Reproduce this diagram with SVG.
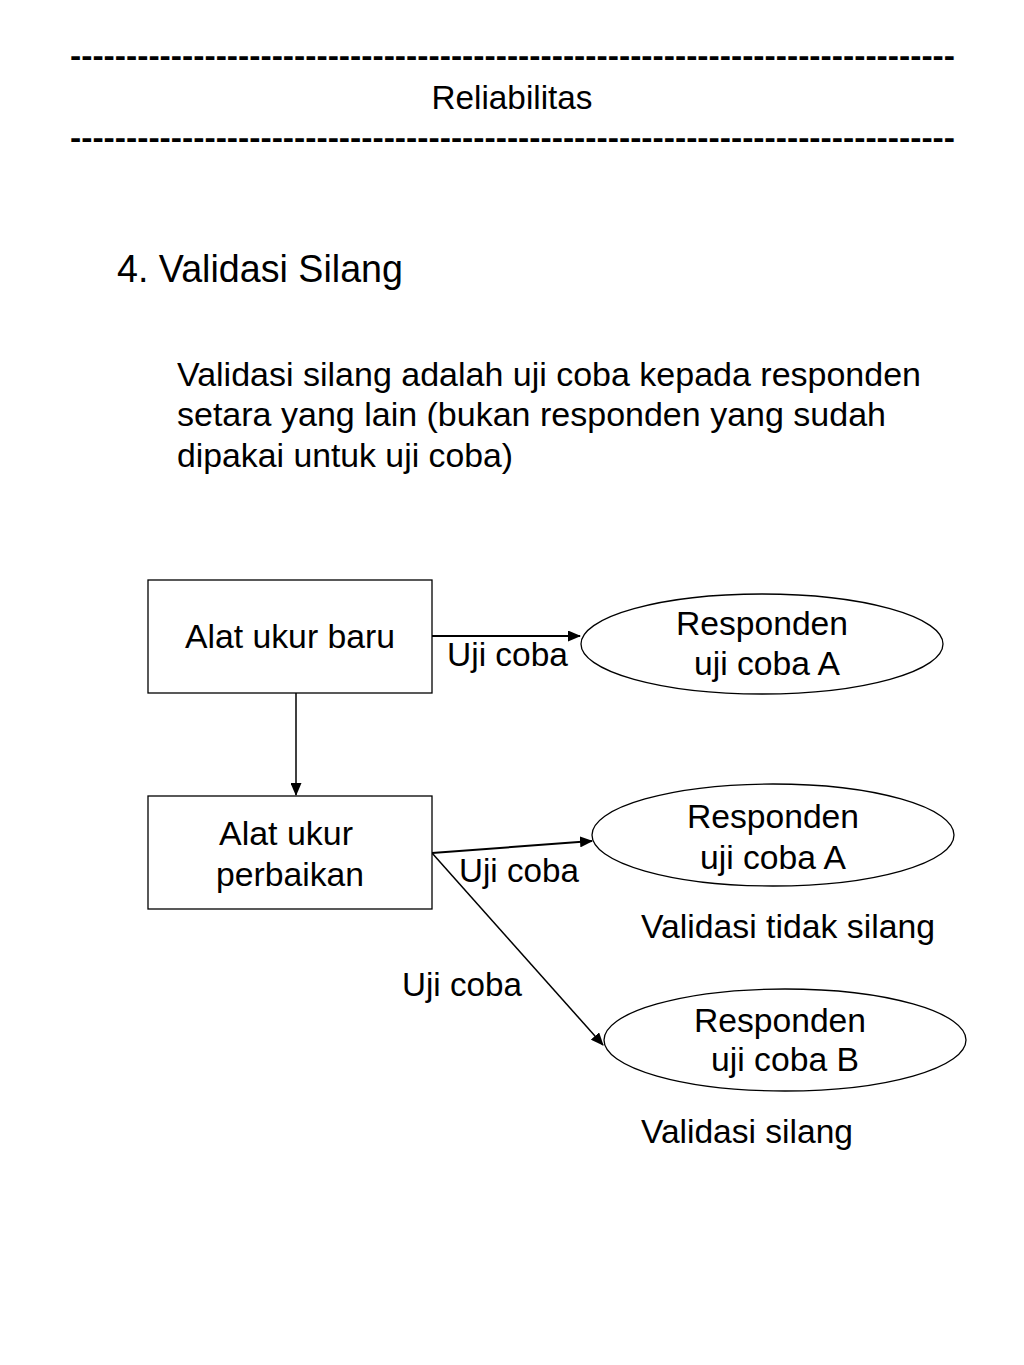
<svg xmlns="http://www.w3.org/2000/svg" width="1024" height="1365" viewBox="0 0 1024 1365">
<defs>
<style>
text{font-family:"Liberation Sans",Arial,sans-serif;fill:#000;}
.h{font-size:33px;}
.d{font-size:32px;font-weight:bold;}
.t{font-size:38px;}
.b{font-size:34px;}
.n{font-size:34px;text-anchor:middle;}
.l{font-size:34px;}
.shape{fill:#fff;stroke:#000;stroke-width:1.3;}
.conn{stroke:#000;stroke-width:2;fill:none;}
.conn1{stroke:#000;stroke-width:1.5;fill:none;}
</style>
<marker id="arr" markerWidth="13" markerHeight="11" refX="12" refY="5.5" orient="auto" markerUnits="userSpaceOnUse">
<path d="M0,0 L13,5.5 L0,11 Z" fill="#000"/>
</marker>
</defs>
<rect width="1024" height="1365" fill="#fff"/>
<g id="header">
<text class="d" x="70" y="66" textLength="885" lengthAdjust="spacingAndGlyphs">-------------------------------------------------------------------------------</text>
<text class="h" x="512" y="109" text-anchor="middle" textLength="161" lengthAdjust="spacingAndGlyphs">Reliabilitas</text>
<text class="d" x="70" y="148" textLength="885" lengthAdjust="spacingAndGlyphs">-------------------------------------------------------------------------------</text>
</g>
<g id="title">
<text class="t" x="117" y="282" textLength="286" lengthAdjust="spacingAndGlyphs">4. Validasi Silang</text>
</g>
<g id="body">
<text class="b" x="177" y="386" textLength="744" lengthAdjust="spacingAndGlyphs">Validasi silang adalah uji coba kepada responden</text>
<text class="b" x="177" y="426" textLength="709" lengthAdjust="spacingAndGlyphs">setara yang lain (bukan responden yang sudah</text>
<text class="b" x="177" y="467" textLength="336" lengthAdjust="spacingAndGlyphs">dipakai untuk uji coba)</text>
</g>
<g id="connectors">
<line class="conn" x1="432" y1="636" x2="580" y2="636" marker-end="url(#arr)"/>
<line class="conn1" x1="296" y1="693" x2="296" y2="795" marker-end="url(#arr)"/>
<line class="conn" x1="432" y1="853" x2="592" y2="841" marker-end="url(#arr)"/>
<line class="conn1" x1="432" y1="853" x2="603" y2="1045" marker-end="url(#arr)"/>
<text class="l" x="447" y="666" textLength="121" lengthAdjust="spacingAndGlyphs">Uji coba</text>
<text class="l" x="459" y="882" textLength="120" lengthAdjust="spacingAndGlyphs">Uji coba</text>
<text class="l" x="402" y="996" textLength="120" lengthAdjust="spacingAndGlyphs">Uji coba</text>
</g>
<g id="node-alat-baru">
<rect class="shape" x="148" y="580" width="284" height="113"/>
<text class="n" x="290" y="648" textLength="210" lengthAdjust="spacingAndGlyphs">Alat ukur baru</text>
</g>
<g id="node-alat-perbaikan">
<rect class="shape" x="148" y="796" width="284" height="113"/>
<text class="n" x="286" y="845" textLength="134" lengthAdjust="spacingAndGlyphs">Alat ukur</text>
<text class="n" x="290" y="886" textLength="148" lengthAdjust="spacingAndGlyphs">perbaikan</text>
</g>
<g id="node-responden-a1">
<ellipse class="shape" cx="762" cy="644" rx="181" ry="50"/>
<text class="n" x="762" y="635" textLength="172" lengthAdjust="spacingAndGlyphs">Responden</text>
<text class="n" x="767" y="675" textLength="146" lengthAdjust="spacingAndGlyphs">uji coba A</text>
</g>
<g id="node-responden-a2">
<ellipse class="shape" cx="773" cy="835" rx="181" ry="51"/>
<text class="n" x="773" y="828" textLength="172" lengthAdjust="spacingAndGlyphs">Responden</text>
<text class="n" x="773" y="869" textLength="146" lengthAdjust="spacingAndGlyphs">uji coba A</text>
</g>
<g id="label-tidak-silang">
<text class="l" x="641" y="938" textLength="294" lengthAdjust="spacingAndGlyphs">Validasi tidak silang</text>
</g>
<g id="node-responden-b">
<ellipse class="shape" cx="785" cy="1040" rx="181" ry="51"/>
<text class="n" x="780" y="1032" textLength="172" lengthAdjust="spacingAndGlyphs">Responden</text>
<text class="n" x="785" y="1071" textLength="148" lengthAdjust="spacingAndGlyphs">uji coba B</text>
</g>
<g id="label-silang">
<text class="l" x="641" y="1143" textLength="212" lengthAdjust="spacingAndGlyphs">Validasi silang</text>
</g>
</svg>
